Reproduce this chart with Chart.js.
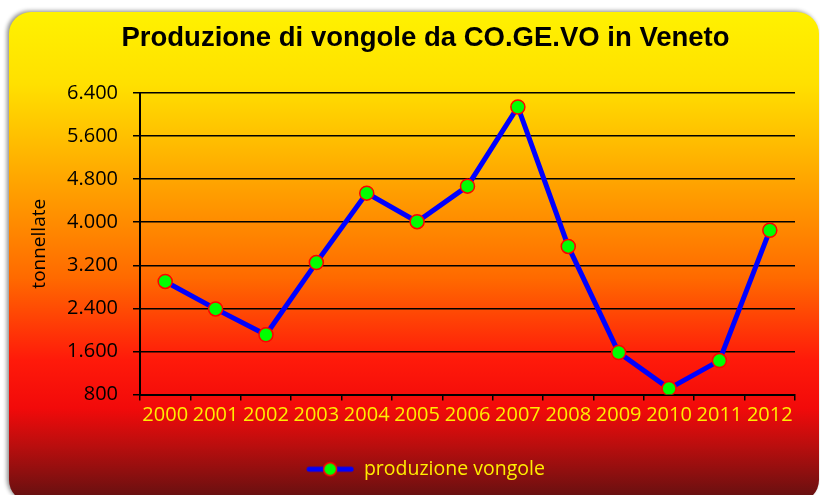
<!DOCTYPE html>
<html>
<head>
<meta charset="utf-8">
<script src="https://cdn.jsdelivr.net/npm/chart.js@4.4.1/dist/chart.umd.min.js"></script>
<style>
  body { margin: 0; background: #fff; }
  #wrap { width: 820px; height: 495px; }
</style>
</head>
<body>
<div id="wrap"><canvas id="chart" width="820" height="495"></canvas></div>
<script>
// values (tonnellate)
const years = ['2000', '2001', '2002', '2003', '2004', '2005', '2006',
               '2007', '2008', '2009', '2010', '2011', '2012'];
const produzione = [2900, 2390, 1910, 3250, 4540, 4010, 4670,
                    6140, 3550, 1580, 910, 1430, 3850];
const yMin = 800, yMax = 6400, yStep = 800;

// thousands with a dot, like the Italian original
const fmt = v => String(v).replace(/\B(?=(\d{3})+(?!\d))/g, '.');

// legend marker: blue line with the green/red point
const legendIcon = document.createElement('canvas');
legendIcon.width = 48; legendIcon.height = 16;
(function () {
    const c = legendIcon.getContext('2d');
    c.strokeStyle = '#0000ff'; c.lineWidth = 5; c.lineCap = 'round';
    c.beginPath(); c.moveTo(3, 8); c.lineTo(45, 8); c.stroke();
    c.fillStyle = '#00ff00'; c.strokeStyle = '#ff0000'; c.lineWidth = 1.5;
    c.beginPath(); c.arc(24, 8, 6.5, 0, Math.PI * 2); c.fill(); c.stroke();
})();

// rounded panel with the yellow -> red gradient
const panelBg = {
    id: 'panelBg',
    beforeDraw(chart) {
        const ctx = chart.ctx;
        const x = 9, y = 12, w = 810, h = 490, r = 22;
        ctx.save();
        ctx.shadowColor = 'rgba(0,0,0,0.45)';
        ctx.shadowBlur = 4;
        ctx.shadowOffsetX = -2;
        ctx.shadowOffsetY = -1;
        const g = ctx.createLinearGradient(0, y, 0, 495);
        g.addColorStop(0, '#fff200');
        g.addColorStop(0.15, '#ffe000');
        g.addColorStop(0.38, '#ff9c00');
        g.addColorStop(0.55, '#ff6a00');
        g.addColorStop(0.72, '#ff1a0a');
        g.addColorStop(0.82, '#f20a0a');
        g.addColorStop(0.9, '#b80e0e');
        g.addColorStop(1, '#6a1010');
        ctx.fillStyle = g;
        ctx.beginPath();
        ctx.roundRect(x, y, w, h, r);
        ctx.fill();
        ctx.restore();
    }
};

new Chart(document.getElementById('chart'), {
    type: 'line',
    data: {
        labels: years,
        datasets: [{
            label: 'produzione vongole',
            data: produzione,
            borderColor: '#0000ff',
            borderWidth: 5,
            pointBackgroundColor: '#00ff00',
            pointBorderColor: '#ff0000',
            pointBorderWidth: 1.5,
            pointRadius: 7,
            pointHoverRadius: 7,
            tension: 0,
            fill: false
        }]
    },
    options: {
        responsive: false,
        animation: false,
        layout: { padding: { left: 56, right: 25, top: 12, bottom: 6 } },
        plugins: {
            title: {
                display: true,
                text: 'Produzione di vongole da CO.GE.VO in Veneto',
                color: '#000',
                font: { family: "'Liberation Sans', sans-serif", size: 27.5, weight: 'bold' },
                padding: { top: 10, bottom: 38 }
            },
            legend: {
                position: 'bottom',
                labels: {
                    color: '#ffee00',
                    font: { family: "'Open Sans', sans-serif", size: 19.5 },
                    usePointStyle: true,
                    pointStyleWidth: 48,
                    padding: 29,
                    generateLabels: chart => [{
                        text: chart.data.datasets[0].label,
                        pointStyle: legendIcon,
                        fillStyle: '#00ff00',
                        strokeStyle: '#ff0000',
                        fontColor: '#ffee00',
                        datasetIndex: 0
                    }]
                }
            },
            tooltip: { enabled: false }
        },
        scales: {
            x: {
                offset: true,
                grid: {
                    offset: true,
                    drawOnChartArea: false,
                    drawTicks: true,
                    tickLength: 6,
                    color: '#000',
                    lineWidth: 1.5
                },
                border: { color: '#000', width: 2 },
                ticks: {
                    color: '#ffee00',
                    font: { family: "'Open Sans', sans-serif", size: 20 },
                    padding: 3,
                    maxRotation: 0,
                    autoSkip: false
                }
            },
            y: {
                min: yMin,
                max: yMax,
                afterFit: s => { s.width = 84; },
                grid: {
                    color: '#000',
                    lineWidth: 1.5,
                    tickLength: 7
                },
                border: { color: '#000', width: 2 },
                ticks: {
                    stepSize: yStep,
                    color: '#000',
                    font: { family: "'Open Sans', sans-serif", size: 20 },
                    padding: 15,
                    callback: v => fmt(v)
                },
                title: {
                    display: true,
                    text: 'tonnellate',
                    color: '#000',
                    font: { family: "'Open Sans', sans-serif", size: 19 },
                    padding: { top: -28, bottom: 0 }
                }
            }
        }
    },
    plugins: [panelBg]
});
</script>
</body>
</html>
